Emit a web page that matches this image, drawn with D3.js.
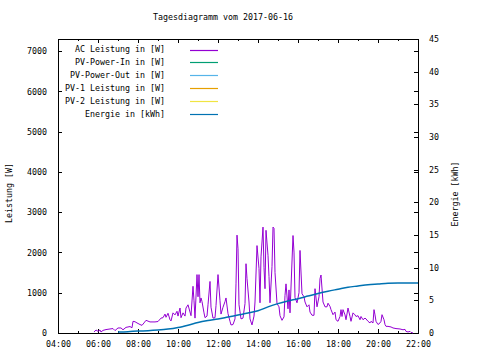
<!DOCTYPE html>
<html>
<head>
<meta charset="utf-8">
<script src="https://cdn.jsdelivr.net/npm/d3@7"></script>
<style>
  body { margin: 0; background: #fff; }
  text { font-family: 'DejaVu Sans Mono', monospace; font-size: 8.3px; fill: #000; }
</style>
</head>
<body>
<div id="chart"></div>
<script>
const title = 'Tagesdiagramm vom 2017-06-16';
const seriesNames = ['AC Leistung in [W]', 'PV-Power-In in [W]', 'PV-Power-Out in [W]',
  'PV-1 Leistung in [W]', 'PV-2 Leistung in [W]', 'Energie in [kWh]'];
const seriesColors = ['#9400d3', '#009e73', '#56b4e9', '#e69f00', '#f0e442', '#0072b2'];

const xTickLabels = ['04:00', '06:00', '08:00', '10:00', '12:00', '14:00', '16:00', '18:00', '20:00', '22:00'];
const leftTicks = [0, 1000, 2000, 3000, 4000, 5000, 6000, 7000];
const rightTicks = [0, 5, 10, 15, 20, 25, 30, 35, 40, 45];

const acTimes = ['05:48', '05:54', '06:00', '06:06', '06:09', '06:15', '06:24', '06:36', '06:45', '06:51',
  '07:00', '07:09', '07:15', '07:24', '07:36', '07:42', '07:45', '07:51', '07:57', '08:06',
  '08:12', '08:18', '08:24', '08:36', '08:51', '09:00', '09:09', '09:15', '09:21', '09:24',
  '09:30', '09:36', '09:39', '09:45', '09:51', '09:57', '10:00', '10:06', '10:09', '10:15',
  '10:21', '10:24', '10:30', '10:36', '10:39', '10:45', '10:48', '10:51', '10:57', '11:00',
  '11:03', '11:06', '11:09', '11:12', '11:18', '11:21', '11:27', '11:30', '11:36', '11:39',
  '11:45', '11:51', '11:54', '12:00', '12:06', '12:09', '12:15', '12:21', '12:24', '12:30',
  '12:36', '12:39', '12:45', '12:51', '12:54', '12:57', '13:00', '13:03', '13:09', '13:15',
  '13:21', '13:24', '13:27', '13:33', '13:36', '13:42', '13:48', '13:51', '13:57', '14:03',
  '14:06', '14:09', '14:15', '14:18', '14:21', '14:24', '14:30', '14:33', '14:36', '14:42',
  '14:45', '14:48', '14:51', '14:57', '15:03', '15:06', '15:12', '15:18', '15:21', '15:24',
  '15:30', '15:33', '15:36', '15:45', '15:48', '15:51', '15:57', '16:03', '16:06', '16:12',
  '16:18', '16:21', '16:27', '16:33', '16:36', '16:42', '16:48', '16:51', '16:57', '17:03',
  '17:06', '17:09', '17:15', '17:21', '17:27', '17:30', '17:36', '17:39', '17:45', '17:51',
  '17:54', '18:00', '18:06', '18:09', '18:12', '18:15', '18:21', '18:24', '18:30', '18:36',
  '18:39', '18:45', '18:51', '18:54', '19:00', '19:06', '19:09', '19:15', '19:21', '19:24',
  '19:30', '19:36', '19:39', '19:45', '19:48', '19:51', '19:54', '20:00', '20:06', '20:09',
  '20:12', '20:18', '20:21', '20:24', '20:30', '20:39', '20:45', '20:54', '21:06', '21:15',
  '21:21', '21:24', '21:30', '21:36', '21:39', '21:45'];
const acWatts = [25, 75, 40, 75, 25, 65, 85, 100, 110, 60,
  125, 125, 80, 140, 160, 130, 290, 280, 250, 210,
  190, 250, 315, 275, 275, 285, 370, 380, 470, 390,
  490, 330, 300, 500, 450, 540, 420, 620, 380, 500,
  420, 620, 700, 520, 430, 1160, 800, 370, 1450, 900,
  1450, 750, 870, 780, 500, 380, 420, 700, 1280, 640,
  370, 380, 680, 1450, 800, 470, 640, 780, 870, 480,
  290, 200, 210, 350, 1220, 2430, 2090, 700, 350, 370,
  730, 1720, 1350, 770, 350, 200, 420, 770, 2170, 1600,
  750, 1890, 2630, 1620, 1100, 2550, 1930, 1400, 750, 1650,
  2630, 2600, 1500, 730, 650, 430, 315, 400, 935, 1220,
  600, 1070, 500, 2420, 2010, 880, 750, 1000, 2050, 975,
  900, 770, 650, 700, 520, 440, 440, 1100, 650, 900,
  1350, 1440, 770, 650, 650, 740, 660, 580, 455, 520,
  330, 290, 410, 580, 410, 580, 450, 330, 620, 410,
  290, 500, 450, 410, 430, 330, 410, 330, 370, 350,
  290, 250, 290, 250, 580, 450, 290, 210, 250, 290,
  455, 330, 210, 165, 165, 150, 125, 110, 100, 80,
  90, 40, 25, 40, 15, 0];

const energyTimes = ['07:00', '07:30', '08:00', '08:30', '09:00', '09:30', '10:00', '10:30', '11:00', '11:30',
  '12:00', '12:30', '13:00', '13:30', '14:00', '14:30', '15:00', '15:30', '16:00', '16:30',
  '17:00', '17:30', '18:00', '18:30', '19:00', '19:30', '20:00', '20:30', '21:00', '21:30', '22:00'];
const energyKWh = [0.15, 0.2, 0.3, 0.35, 0.45, 0.6, 0.85, 1.2, 1.6, 1.9,
  2.15, 2.45, 2.75, 3.05, 3.4, 4.0, 4.5, 4.9, 5.25, 5.65,
  6.05, 6.4, 6.7, 7.0, 7.2, 7.4, 7.5, 7.6, 7.65, 7.65, 7.65];

const width = 480;
const height = 360;
const margin = ({ top: 39, right: 62, bottom: 27, left: 58 });
const parseTime = d3.timeParse('%H:%M');

const svg = d3.select('#chart').append('svg')
  .attr('width', width)
  .attr('height', height)
  .attr('viewBox', [0, 0, width, height]);

const x = d3.scaleTime()
  .domain([parseTime('04:00'), parseTime('22:00')])
  .range([margin.left, width - margin.right]);
const y = d3.scaleLinear()
  .domain([0, 7300])
  .range([height - margin.bottom, margin.top]);
const y2 = d3.scaleLinear()
  .domain([0, 45])
  .range([height - margin.bottom, margin.top]);

const fmtTime = d3.timeFormat('%H:%M');
const majorX = xTickLabels.map(parseTime);
const minorX = d3.timeHour.range(parseTime('04:00'), parseTime('22:01'));

const clean = g => g.call(g => g.select('.domain').remove())
  .attr('font-family', null).attr('font-size', null);

// bottom + top x axes (ticks inward)
svg.append('g')
  .attr('transform', `translate(0,${height - margin.bottom})`)
  .call(d3.axisBottom(x).tickValues(minorX).tickSize(-2).tickFormat(''))
  .call(clean);
svg.append('g')
  .attr('transform', `translate(0,${height - margin.bottom})`)
  .call(d3.axisBottom(x).tickValues(majorX).tickSize(-4).tickPadding(8).tickFormat(fmtTime))
  .call(clean);
svg.append('g')
  .attr('transform', `translate(0,${margin.top})`)
  .call(d3.axisTop(x).tickValues(minorX).tickSize(-2).tickFormat(''))
  .call(clean);
svg.append('g')
  .attr('transform', `translate(0,${margin.top})`)
  .call(d3.axisTop(x).tickValues(majorX).tickSize(-4).tickFormat(''))
  .call(clean);

// left y axis + mirror on the right
svg.append('g')
  .attr('transform', `translate(${margin.left},0)`)
  .call(d3.axisLeft(y).tickValues(leftTicks).tickSize(-4).tickPadding(11).tickFormat(d3.format('d')))
  .call(clean);
svg.append('g')
  .attr('transform', `translate(${width - margin.right},0)`)
  .call(d3.axisRight(y).tickValues(leftTicks).tickSize(-4).tickFormat(''))
  .call(clean);

// y2 axis
svg.append('g')
  .attr('transform', `translate(${width - margin.right},0)`)
  .call(d3.axisRight(y2).tickValues(rightTicks).tickSize(-4).tickPadding(11).tickFormat(d3.format('d')))
  .call(clean);

svg.selectAll('.tick line').attr('stroke', '#000').attr('shape-rendering', 'crispEdges');

// plot border
svg.append('rect')
  .attr('x', margin.left)
  .attr('y', margin.top)
  .attr('width', width - margin.left - margin.right)
  .attr('height', height - margin.top - margin.bottom)
  .attr('fill', 'none')
  .attr('stroke', '#000')
  .attr('shape-rendering', 'crispEdges');

// data lines
const acData = acTimes.map((t, i) => ({ t: parseTime(t), v: acWatts[i] }));
const energyData = energyTimes.map((t, i) => ({ t: parseTime(t), v: energyKWh[i] }));

svg.append('path')
  .datum(acData)
  .attr('fill', 'none')
  .attr('stroke', seriesColors[0])
  .attr('stroke-width', 1)
  .attr('stroke-linejoin', 'miter')
  .attr('d', d3.line().x(d => x(d.t)).y(d => y(d.v)));

svg.append('path')
  .datum(energyData)
  .attr('fill', 'none')
  .attr('stroke', seriesColors[5])
  .attr('stroke-width', 1.5)
  .attr('d', d3.line().curve(d3.curveMonotoneX).x(d => x(d.t)).y(d => y2(d.v)));

// legend
const legend = svg.append('g');
const rowY = i => 49.5 + i * 12.85;
legend.selectAll('text')
  .data(seriesNames)
  .join('text')
  .attr('x', 165)
  .attr('y', (d, i) => rowY(i))
  .attr('dy', '0.35em')
  .attr('text-anchor', 'end')
  .text(d => d);
legend.selectAll('line')
  .data(seriesColors)
  .join('line')
  .attr('x1', 190)
  .attr('x2', 218)
  .attr('y1', (d, i) => Math.round(rowY(i)) + 0.5)
  .attr('y2', (d, i) => Math.round(rowY(i)) + 0.5)
  .attr('stroke', d => d)
  .attr('stroke-width', 1.2);

// titles
svg.append('text')
  .attr('x', 223)
  .attr('y', 17)
  .attr('dy', '0.35em')
  .attr('text-anchor', 'middle')
  .text(title);

svg.append('text')
  .attr('transform', 'translate(9,193) rotate(-90)')
  .attr('dy', '0.35em')
  .attr('text-anchor', 'middle')
  .text('Leistung [W]');

svg.append('text')
  .attr('transform', 'translate(455,194) rotate(-90)')
  .attr('dy', '0.35em')
  .attr('text-anchor', 'middle')
  .text('Energie [kWh]');
</script>
</body>
</html>
